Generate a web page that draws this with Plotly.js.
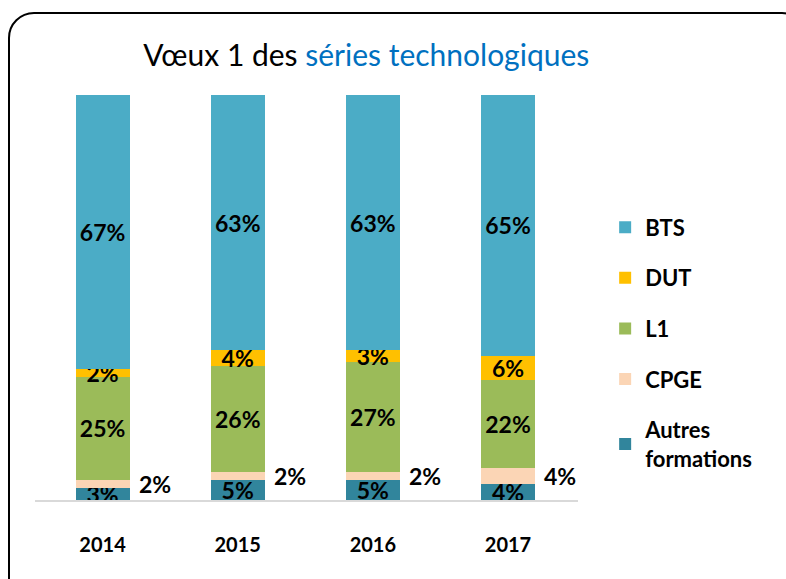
<!DOCTYPE html>
<html><head><meta charset="utf-8">
<script src="https://cdn.plot.ly/plotly-3.0.1.min.js"></script>
<style>
html,body{margin:0;padding:0;background:#fff;overflow:hidden;}
#frame{position:absolute;left:8px;top:12px;width:800px;height:600px;border:2px solid #000;border-radius:26px;box-sizing:border-box;}
#chart{position:absolute;left:0;top:0;width:786px;height:579px;}
</style></head>
<body><div id="frame"></div><div id="chart"></div>
<script>
const years = ['2014','2015','2016','2017'];
const autres = [3,5,5,4];
const cpge = [2,2,2,4];
const l1 = [25,26,27,22];
const dut = [2,4,3,6];
const bts = [67,63,63,65];

const font = 'Lato, "Open Sans", sans-serif';
const lblFont = {family: font, size: 23, color: '#000', weight: 'bold'};

function tr(name, vals, color, showText, rank){
  return {type:'bar', name:name, x:years, y:vals, marker:{color:color},
    text: showText ? vals.map(v=>'<b>'+v+'%</b>') : null,
    textposition: showText ? 'inside' : 'none',
    insidetextanchor:'middle', constraintext:'none', textangle:0,
    textfont: lblFont, hoverinfo:'skip', legendgroup:name, legendrank:rank, width:0.4};
}
const data = [
  tr('<b>Autres<br>formations</b>', autres, '#31859C', true, 5),
  tr('<b>CPGE</b>', cpge, '#FBD5B5', false, 4),
  tr('<b>L1</b>', l1, '#9BBB59', true, 3),
  tr('<b>DUT</b>', dut, '#FFC000', true, 2),
  tr('<b>BTS</b>', bts, '#4BACC6', true, 1)
];
const annotations = years.map((y,i)=>({
  x:y, y:(autres[i]+cpge[i]/2)*100/(autres[i]+cpge[i]+l1[i]+dut[i]+bts[i]), xref:'x', yref:'y',
  text:'<b>'+cpge[i]+'%</b>', showarrow:false, xshift:52, yshift:0,
  font:{family:font, size:23, color:'#000'}
}));
const layout = {
  width:786, height:579,
  margin:{l:35, r:208, t:95, b:79},
  paper_bgcolor:'rgba(0,0,0,0)', plot_bgcolor:'rgba(0,0,0,0)',
  barmode:'stack', barnorm:'percent',
  title:{text:'Vœux 1 des <span style="fill:#0070C0">séries technologiques</span>',
    x:0.466, xanchor:'center', y:0.905, yanchor:'middle', xref:'container', yref:'container',
    font:{family:font, size:30, color:'#000'}},
  xaxis:{showline:true, linecolor:'#D9D9D9', linewidth:2, ticks:'', showgrid:false,
    tickfont:{family:font, size:20, color:'#000', weight:'bold'}, ticklabelstandoff:26, fixedrange:true},
  yaxis:{range:[0,100], visible:false, showgrid:false, zeroline:false},
  legend:{x:1.05, y:0.725, xanchor:'left', yanchor:'top', tracegroupgap:19,
    font:{family:font, size:22, color:'#000'}, traceorder:'grouped'},
  annotations: annotations,
  showlegend:true
};
Plotly.newPlot('chart', data, layout, {displayModeBar:false, staticPlot:true});
</script></body></html>
